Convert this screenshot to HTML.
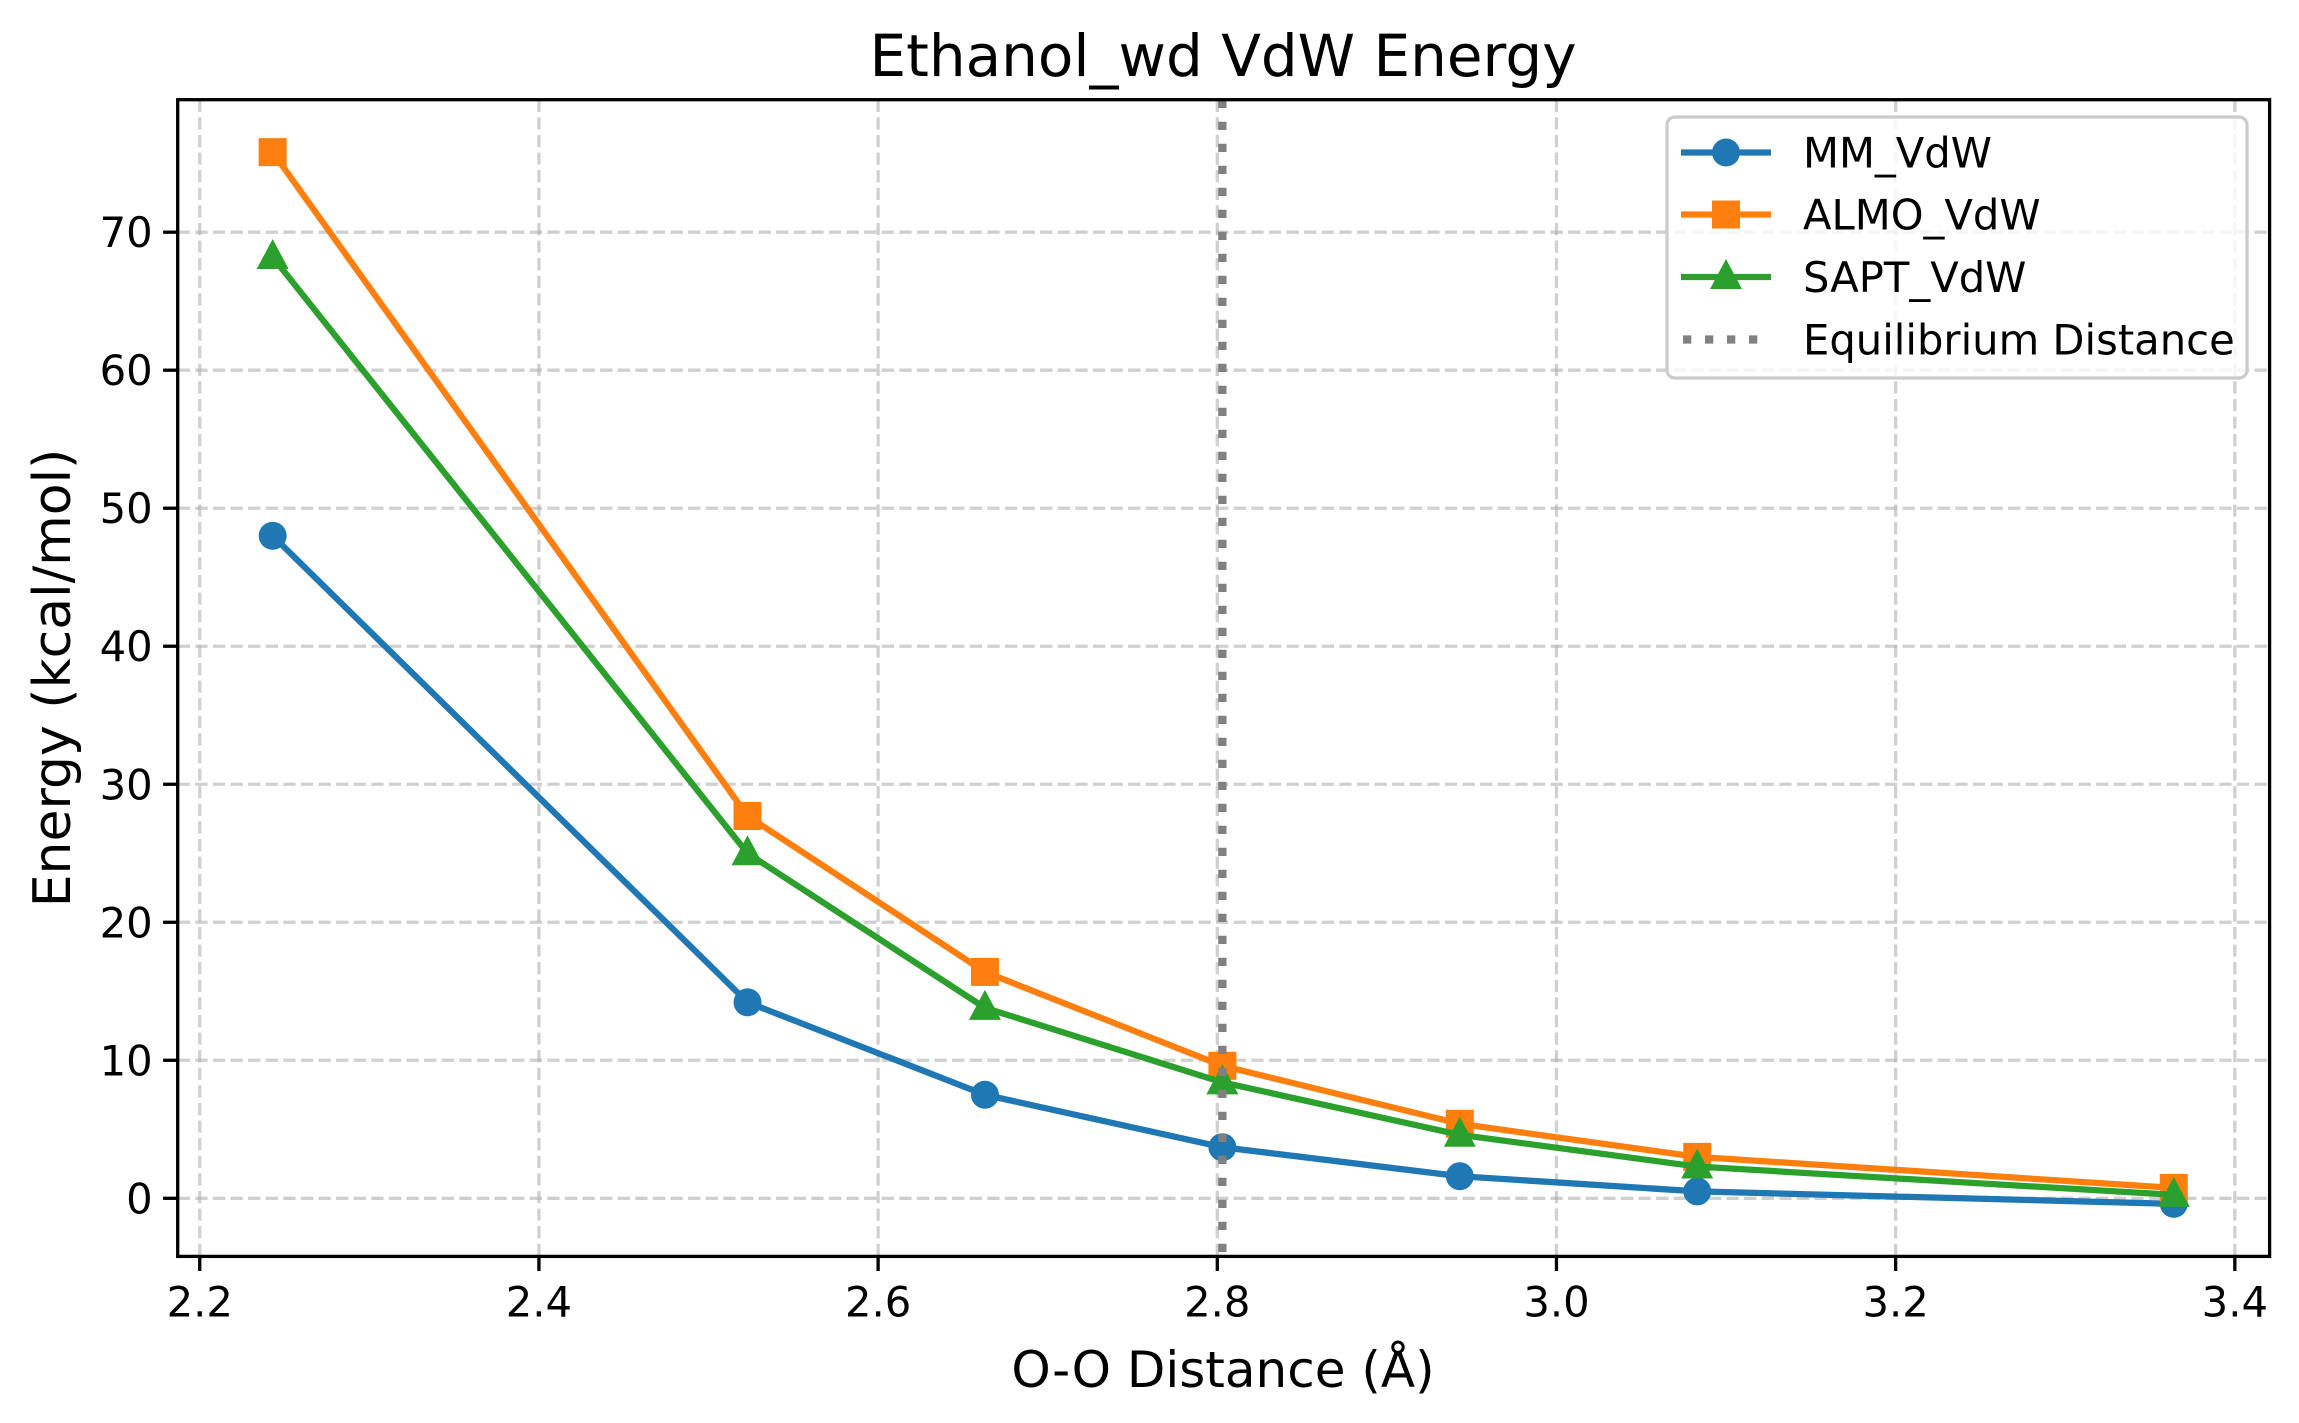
<!DOCTYPE html>
<html><head><meta charset="utf-8"><style>
html,body{margin:0;padding:0;background:#fff;}
svg{display:block;font-family:"DejaVu Sans","Liberation Sans",sans-serif;}
</style></head><body>
<svg id="chart" width="2299" height="1423" viewBox="0 0 2299 1423" xmlns="http://www.w3.org/2000/svg">
<rect x="0" y="0" width="2299" height="1423" fill="#fff"/>
<text x="1223" y="76" font-size="58" text-anchor="middle">Ethanol_wd VdW Energy</text>
<text x="1223" y="1387" font-size="50" text-anchor="middle">O-O Distance (Å)</text>
<text x="0" y="0" font-size="52" text-anchor="middle" transform="translate(70,678) rotate(-90)">Energy (kcal/mol)</text>
<g id="grid"></g>
<g id="series"></g>
<g id="axes"></g>
<g id="legend"></g>
</svg>
<script>
const xValues = [2.243, 2.523, 2.663, 2.803, 2.943, 3.083, 3.364];
const mmVdw = [48.0, 14.2, 7.5, 3.7, 1.6, 0.5, -0.4];
const almoVdw = [75.8, 27.7, 16.4, 9.6, 5.4, 3.0, 0.75];
const saptVdw = [68.2, 25.0, 13.8, 8.4, 4.6, 2.3, 0.25];
const equilibriumX = 2.803;
const xTicks = [2.2, 2.4, 2.6, 2.8, 3.0, 3.2, 3.4];
const xTickLabels = ["2.2","2.4","2.6","2.8","3.0","3.2","3.4"];
const yTicks = [0, 10, 20, 30, 40, 50, 60, 70];
const yTickLabels = ["0","10","20","30","40","50","60","70"];

const NS = "http://www.w3.org/2000/svg";
const L = 177.7, R = 2269.6, T = 99.7, B = 1256.4;
const xMin = 2.187, xMax = 3.4205, yMin = -4.21, yMax = 79.6;
function sx(v){ return L + (v - xMin) / (xMax - xMin) * (R - L); }
function sy(v){ return B - (v - yMin) / (yMax - yMin) * (B - T); }
function mk(tag, attrs, parent){
  const e = document.createElementNS(NS, tag);
  for (const k in attrs) e.setAttribute(k, attrs[k]);
  parent.appendChild(e);
  return e;
}
const grid = document.getElementById('grid');
const axes = document.getElementById('axes');
const series = document.getElementById('series');
const legend = document.getElementById('legend');

xTicks.forEach((t, i) => {
  const x = sx(t);
  const g = mk('line', {x1:x, x2:x, y1:T, y2:B, stroke:'#b0b0b0', 'stroke-opacity':0.6, 'stroke-width':3.3, 'stroke-dasharray':'12.3,5.3'}, grid);
  
  
  const tk = mk('line', {x1:x, x2:x, y1:B, y2:B+14.6, stroke:'#000', 'stroke-width':3.3}, axes);
  
  
  const tx = mk('text', {x:x, y:B+60, 'font-size':41.7, 'text-anchor':'middle'}, axes);
  tx.textContent = xTickLabels[i];
  
  
});
yTicks.forEach((t, i) => {
  const y = sy(t);
  const g = mk('line', {x1:L, x2:R, y1:y, y2:y, stroke:'#b0b0b0', 'stroke-opacity':0.6, 'stroke-width':3.3, 'stroke-dasharray':'12.3,5.3'}, grid);
  
  
  const tk = mk('line', {x1:L-14.6, x2:L, y1:y, y2:y, stroke:'#000', 'stroke-width':3.3}, axes);
  
  
  const tx = mk('text', {x:L-25, y:y+15, 'font-size':41.7, 'text-anchor':'end'}, axes);
  tx.textContent = yTickLabels[i];
  
  
});
const frame = mk('rect', {x:L, y:T, width:R-L, height:B-T, fill:'none', stroke:'#000', 'stroke-width':3.3}, axes);



function marker(type, x, y, color, parent){
  let e;
  if (type === 'circle') e = mk('circle', {cx:x, cy:y, r:14, fill:color}, parent);
  else if (type === 'square') e = mk('rect', {x:x-14, y:y-14, width:28, height:28, fill:color}, parent);
  else e = mk('polygon', {points:`${x},${y-18} ${x-16},${y+12} ${x+16},${y+12}`, fill:color}, parent);
  return e;
}
const defs = [
  {name:'mm-vdw', data:mmVdw, color:'#1f77b4', m:'circle'},
  {name:'almo-vdw', data:almoVdw, color:'#ff7f0e', m:'square'},
  {name:'sapt-vdw', data:saptVdw, color:'#2ca02c', m:'triangle'}
];
defs.forEach(s => {
  const g = mk('g', {}, series);
  
  
  const pts = s.data.map((v, i) => sx(xValues[i]) + ',' + sy(v)).join(' ');
  const pl = mk('polyline', {points:pts, fill:'none', stroke:s.color, 'stroke-width':6.25, 'stroke-linejoin':'round'}, g);
  
  
  s.data.forEach((v, i) => {
    const e = marker(s.m, sx(xValues[i]), sy(v), s.color, g);
    
    
  });
});
const ex = sx(equilibriumX);
const vl = mk('line', {x1:ex, x2:ex, y1:T, y2:B, stroke:'#808080', 'stroke-width':8.3, 'stroke-dasharray':'8.3,13.7'}, series);



const lb = mk('rect', {x:1667, y:117, width:580, height:261, rx:8, fill:'#fff', 'fill-opacity':0.8, stroke:'#cccccc', 'stroke-width':3.3}, legend);


const entries = [
  {label:'MM_VdW', color:'#1f77b4', m:'circle', y:152.5},
  {label:'ALMO_VdW', color:'#ff7f0e', m:'square', y:214.5},
  {label:'SAPT_VdW', color:'#2ca02c', m:'triangle', y:277},
  {label:'Equilibrium Distance', color:'#808080', m:null, y:339.5}
];
entries.forEach(en => {
  const g = mk('g', {}, legend);
  
  
  if (en.m) {
    mk('line', {x1:1681, x2:1771, y1:en.y, y2:en.y, stroke:en.color, 'stroke-width':6.25}, g);
    marker(en.m, 1726, en.y, en.color, g);
  } else {
    mk('line', {x1:1683, x2:1771, y1:en.y, y2:en.y, stroke:en.color, 'stroke-width':8.3, 'stroke-dasharray':'8.3,13.7'}, g);
  }
  const t = mk('text', {x:1803, y:en.y+15, 'font-size':41.7}, g);
  t.textContent = en.label;
  
  
});
</script>
</body></html>
